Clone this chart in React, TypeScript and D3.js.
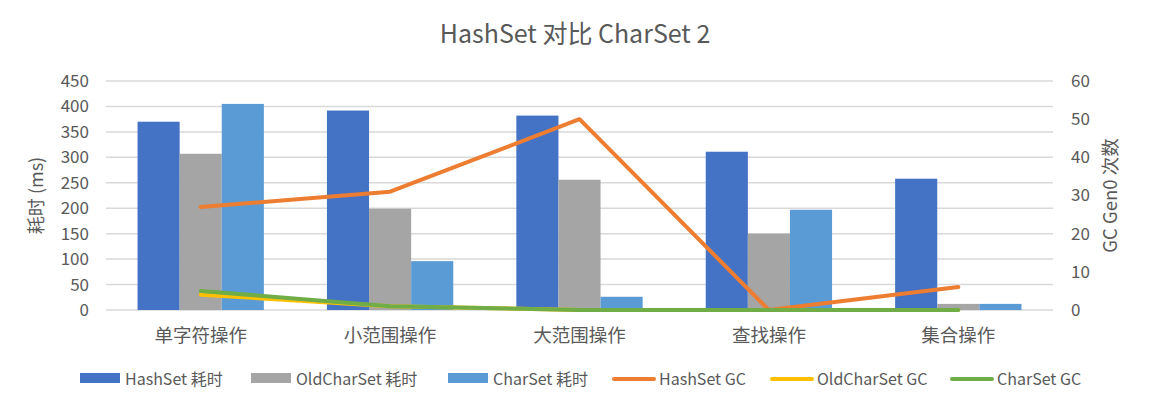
import React from 'react';
import * as d3 from 'd3';

const categories = ['单字符操作', '小范围操作', '大范围操作', '查找操作', '集合操作'];
const hashSetTime = [370, 392, 382, 311, 258];
const oldCharSetTime = [307, 199, 256, 150, 12];
const charSetTime = [405, 96, 26, 197, 12];
const hashSetGC = [27, 31, 50, 0, 6];
const oldCharSetGC = [4, 1, 0, 0, 0];
const charSetGC = [5, 1, 0, 0, 0];
const leftTicks = [0, 50, 100, 150, 200, 250, 300, 350, 400, 450];
const rightTicks = [0, 10, 20, 30, 40, 50, 60];

const barSeries = [
  { name: 'HashSet 耗时', values: hashSetTime, color: '#4472C4' },
  { name: 'OldCharSet 耗时', values: oldCharSetTime, color: '#A5A5A5' },
  { name: 'CharSet 耗时', values: charSetTime, color: '#5B9BD5' },
];
const lineSeries = [
  { name: 'HashSet GC', values: hashSetGC, color: '#ED7D31' },
  { name: 'OldCharSet GC', values: oldCharSetGC, color: '#FFC000' },
  { name: 'CharSet GC', values: charSetGC, color: '#70AD47' },
];

const W = 1151;
const H = 409;
const margin = { top: 81, right: 98, bottom: 99, left: 106 };
const FONT = '"Microsoft YaHei", "Noto Sans CJK SC", "Noto Sans", sans-serif';
const TEXT = '#595959';

export default function App() {
  const x = d3
    .scaleBand<string>()
    .domain(categories)
    .range([margin.left, W - margin.right]);
  const groupW = x.bandwidth() * 0.667;
  const x1 = d3
    .scaleBand<string>()
    .domain(barSeries.map((s) => s.name))
    .range([0, groupW]);
  const yL = d3.scaleLinear().domain([0, 450]).range([H - margin.bottom, margin.top]);
  const yR = d3.scaleLinear().domain([0, 60]).range([H - margin.bottom, margin.top]);

  const line = d3
    .line<number>()
    .x((_, i) => x(categories[i])! + x.bandwidth() / 2)
    .y((d) => yR(d));

  // legend item starting x positions
  const legendX = [80, 251, 448, 612, 770, 950];
  const legendItems = [
    ...barSeries.map((s) => ({ ...s, kind: 'bar' })),
    ...lineSeries.map((s) => ({ ...s, kind: 'line' })),
  ];
  const midY = (margin.top + H - margin.bottom) / 2;

  return (
    <svg
      width={W}
      height={H}
      style={{ position: 'absolute', left: 0, top: 0, background: '#fff' }}
      fontFamily={FONT}
    >
      <text x={575} y={43} textAnchor="middle" fontSize={25} fill={TEXT}>
        HashSet 对比 CharSet 2
      </text>

      {/* gridlines */}
      {leftTicks.map((t) => (
        <line
          key={t}
          x1={margin.left}
          x2={W - margin.right}
          y1={yL(t)}
          y2={yL(t)}
          stroke="#D9D9D9"
          strokeWidth={1.5}
        />
      ))}

      {/* left axis labels */}
      {leftTicks.map((t) => (
        <text key={t} x={89} y={yL(t)} dy="0.35em" textAnchor="end" fontSize={17} fill={TEXT}>
          {t}
        </text>
      ))}
      {/* right axis labels */}
      {rightTicks.map((t) => (
        <text key={t} x={1071} y={yR(t)} dy="0.35em" textAnchor="start" fontSize={17} fill={TEXT}>
          {t}
        </text>
      ))}

      <text
        transform={`translate(43,${midY}) rotate(-90)`}
        textAnchor="middle"
        fontSize={18}
        fill={TEXT}
      >
        耗时 (ms)
      </text>
      <text
        transform={`translate(1117,${midY}) rotate(-90)`}
        textAnchor="middle"
        fontSize={18.5}
        fill={TEXT}
      >
        GC Gen0 次数
      </text>

      {/* bars */}
      {barSeries.map((s) =>
        s.values.map((v, i) => (
          <rect
            key={s.name + i}
            x={x(categories[i])! + (x.bandwidth() - groupW) / 2 + x1(s.name)!}
            y={yL(v)}
            width={x1.bandwidth()}
            height={yL(0) - yL(v)}
            fill={s.color}
          />
        ))
      )}

      {/* lines */}
      {lineSeries.map((s) => (
        <path
          key={s.name}
          d={line(s.values)!}
          fill="none"
          stroke={s.color}
          strokeWidth={4}
          strokeLinecap="round"
          strokeLinejoin="round"
        />
      ))}

      {/* category labels */}
      {categories.map((c) => (
        <text
          key={c}
          x={x(c)! + x.bandwidth() / 2}
          y={336}
          dy="0.35em"
          textAnchor="middle"
          fontSize={18.5}
          fill={TEXT}
        >
          {c}
        </text>
      ))}

      {/* legend */}
      {legendItems.map((it, i) => (
        <g key={it.name} transform={`translate(${legendX[i]},378)`}>
          {it.kind === 'bar' ? (
            <rect x={0} y={-5} width={40} height={10} fill={it.color} />
          ) : (
            <line x1={2} x2={42} y1={1} y2={1} stroke={it.color} strokeWidth={4} strokeLinecap="round" />
          )}
          <text x={it.kind === 'bar' ? 45 : 47} y={1} dy="0.35em" fontSize={16} fill={TEXT}>
            {it.name}
          </text>
        </g>
      ))}
    </svg>
  );
}
